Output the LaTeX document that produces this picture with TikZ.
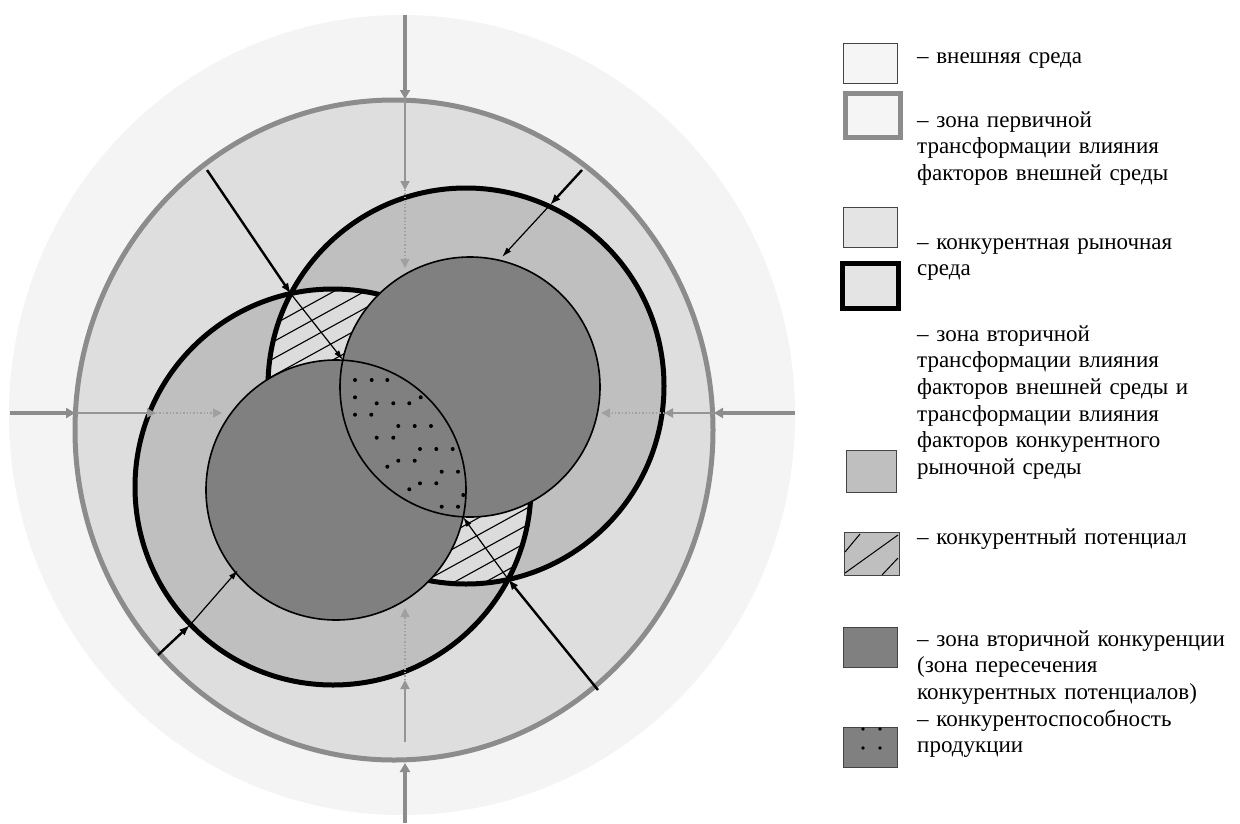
\documentclass[tikz,border=0pt]{standalone}
\usepackage{fontspec}
\setmainfont{Liberation Serif}
\usetikzlibrary{arrows.meta}
\definecolor{outerc}{HTML}{F4F4F4}
\definecolor{envc}{HTML}{DEDEDE}
\definecolor{ringc}{HTML}{BFBFBF}
\definecolor{darkc}{HTML}{808080}
\definecolor{grayline}{HTML}{8C8C8C}
\definecolor{graythin}{HTML}{959595}
\definecolor{graydot}{HTML}{A0A0A0}
\definecolor{hatchc}{HTML}{DCDCDC}
\definecolor{legfill}{HTML}{F5F5F5}
\definecolor{legenv}{HTML}{E4E4E4}
\definecolor{legbd}{HTML}{444444}
\begin{document}
\begin{tikzpicture}[x=1pt,y=-1pt,
  garrowthick/.style={draw=grayline, line width=3.5pt, -{Triangle[length=9pt,width=10pt]}},
  garrowthin/.style={draw=graythin, line width=1.8pt, -{Triangle[length=9pt,width=9pt]}},
  garrowdot/.style={draw=graydot, line width=1.4pt, dotted, -{Triangle[length=9pt,width=9pt,sep=0pt]}},
  barrowthick/.style={draw=black, line width=2.4pt, -{Latex[length=11pt,width=8pt]}},
  barrowthin/.style={draw=black, line width=1.2pt, -{Latex[length=10pt,width=6pt]}},
  legtext/.style={anchor=base west, inner sep=0pt, text width=330pt, align=left,
    font=\fontsize{23}{26.7}\selectfont},
  legbox/.style={minimum width=54pt, minimum height=40pt, inner sep=0pt, draw=legbd, line width=0.9pt},
  dot/.style={fill=black}
]
\path[use as bounding box, fill=white] (0,0) rectangle (1240,823);

% centres
\coordinate (cEnv) at (402,415);
\coordinate (cGray) at (394,430);
\coordinate (cUR) at (466,386);
\coordinate (cLL) at (333,487);
\coordinate (dUR) at (470,387);
\coordinate (dLL) at (336,490);

% outer environment
\fill[outerc] (cEnv) ellipse [x radius=393pt, y radius=400pt];
% primary transformation zone
\filldraw[fill=envc, draw=grayline, line width=5pt] (cGray) ellipse [x radius=319pt, y radius=330pt];

% rings
\fill[ringc] (cUR) circle [radius=198pt];
\fill[ringc] (cLL) circle [radius=198pt];

% hatched overlap
\begin{scope}
  \clip (cUR) circle [radius=198pt];
  \clip (cLL) circle [radius=198pt];
  \fill[hatchc] (0,0) rectangle (800,823);
  \foreach \c in {365,382,...,780} {
    \draw[line width=1.1pt] (200,\c) -- (650,\c-247.5);
  }
\end{scope}

% thick circles
\draw[line width=5pt] (cUR) circle [radius=198pt];
\draw[line width=5pt] (cLL) circle [radius=198pt];

% dark circles
\filldraw[fill=darkc, draw=black, line width=1.6pt] (dLL) circle [radius=130pt];
\filldraw[fill=darkc, draw=black, line width=1.6pt] (dUR) circle [radius=130pt];
\begin{scope}
  \clip (dUR) circle [radius=130pt];
  \draw[line width=1.6pt] (dLL) circle [radius=130pt];
\end{scope}

% dots of the lens
\foreach \p in {(355,380),(371.7,380),(387.3,380),(355,397.3),(376.7,403.3),(393.3,403.3),
  (409.3,403.3),(420.7,397.3),(355,414.7),(371.3,414.7),(398.3,426),(414.7,426),(431,426),
  (376.7,437.7),(393.3,437.7),(420,449),(436.3,449),(452.7,449),(398.3,460.7),(414.7,460.7),
  (387.3,466.7),(441.7,471.7),(458,471.7),(420,483.3),(436.3,483.3),(409.3,489.3),
  (463.3,495),(441.7,506.7),(458,506.7)} {
  \fill \p circle [radius=2pt];
}

% gray arrows
\coordinate (gT0) at (405,15);  \coordinate (gT1) at (405,99);
\coordinate (gT2) at (405,190); \coordinate (gT3) at (405,268);
\coordinate (gB0) at (405,823); \coordinate (gB1) at (405,763);
\coordinate (gB1s) at (405,742); \coordinate (gB2) at (405,680);
\coordinate (gB3) at (405,608);
\coordinate (gL0) at (10,413);  \coordinate (gL1) at (75,413);
\coordinate (gL2) at (156,413); \coordinate (gL3) at (222,413);
\coordinate (gR0) at (795,413); \coordinate (gR1) at (714,413);
\coordinate (gR2) at (664,413); \coordinate (gR3) at (601,413);

\draw[garrowthick] (gT0) -- (gT1);
\draw[garrowthin] (gT1) -- (gT2);
\draw[garrowdot] (gT2) -- (gT3);
\draw[garrowthick] (gB0) -- (gB1);
\draw[garrowthin] (gB1s) -- (gB2);
\draw[garrowdot] (gB2) -- (gB3);
\draw[garrowthick] (gL0) -- (gL1);
\draw[garrowthin] (gL1) -- (gL2);
\draw[garrowdot] (gL2) -- (gL3);
\draw[garrowthick] (gR0) -- (gR1);
\draw[garrowthin] (gR1) -- (gR2);
\draw[garrowdot] (gR2) -- (gR3);

% black arrows
\coordinate (bA0) at (207,170); \coordinate (X1) at (291,294); \coordinate (L1) at (343,360);
\coordinate (bB0) at (582,170); \coordinate (bB1) at (550,205); \coordinate (bB2) at (502,257);
\coordinate (bC0) at (158,655); \coordinate (bC1) at (190,625); \coordinate (bC2) at (238,570);
\coordinate (bD0) at (598,690); \coordinate (X2) at (508,579); \coordinate (L2) at (463,517);
\draw[barrowthick] (bA0) -- (X1);
\draw[barrowthin] (X1) -- (L1);
\draw[barrowthick] (bB0) -- (bB1);
\draw[barrowthin] (bB1) -- (bB2);
\draw[barrowthick] (bC0) -- (bC1);
\draw[barrowthin] (bC1) -- (bC2);
\draw[barrowthick] (bD0) -- (X2);
\draw[barrowthin] (X2) -- (L2);

% legend boxes
\node[legbox, fill=legfill] (b1) at (870,63) {};
\node[legbox, fill=legfill, draw=grayline, line width=5pt, minimum width=55pt, minimum height=44pt] (b2) at (872.5,115) {};
\node[legbox, fill=legenv] (b3) at (870,227) {};
\node[legbox, fill=legenv, draw=black, line width=5pt, minimum width=56pt, minimum height=45pt] (b4) at (870,285.5) {};
\node[legbox, fill=ringc, minimum width=50pt, minimum height=42pt] (b5) at (871,471) {};
\node[legbox, fill=ringc, minimum width=55pt, minimum height=43pt] (b6) at (871.5,553.5) {};
\begin{scope}
  \clip (844,532) rectangle (899,575);
  \draw[line width=1pt] (845,552) -- (860,534);
  \draw[line width=1pt] (845,573) -- (898,535);
  \draw[line width=1pt] (882,575) -- (898,558);
\end{scope}
\node[legbox, fill=darkc] (b7) at (870.5,647.5) {};
\node[legbox, fill=darkc] (b8) at (870.5,747) {};
\foreach \p in {(863,729),(880,729),(863,748),(880,748)} { \fill \p circle [radius=1.8pt]; }

% legend texts
\node[legtext] (t1) at (917,63) {– внешняя среда};
\node[legtext] (t2) at (917,127) {– зона первичной\\трансформации влияния\\факторов внешней среды};
\node[legtext] (t3) at (917,249) {– конкурентная рыночная\\среда};
\node[legtext] (t4) at (917,341) {– зона вторичной\\трансформации влияния\\факторов внешней среды и\\трансформации влияния\\факторов конкурентного\\рыночной среды};
\node[legtext] (t5) at (917,544) {– конкурентный потенциал};
\node[legtext] (t6) at (917,646) {– зона вторичной конкуренции\\(зона пересечения\\конкурентных потенциалов)};
\node[legtext] (t7) at (917,726) {– конкурентоспособность\\продукции};
\end{tikzpicture}
\end{document}
